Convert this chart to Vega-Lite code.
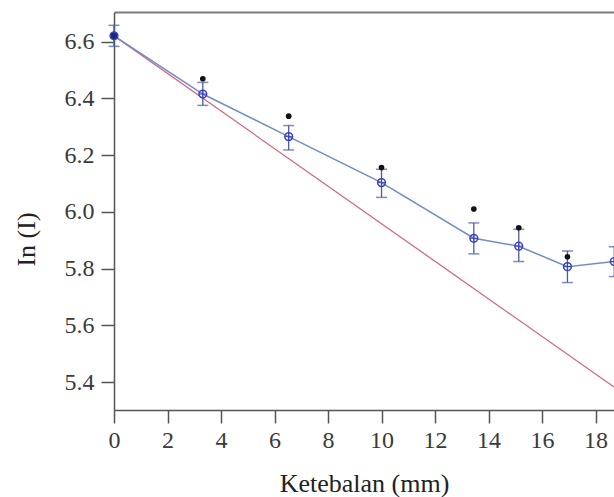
{
  "$schema": "https://vega.github.io/schema/vega-lite/v6.json",
  "width": 500,
  "height": 398,
  "autosize": {"type": "none"},
  "padding": {"left": 114, "top": 12, "right": 0, "bottom": 87},
  "background": "white",
  "config": {
    "view": {"stroke": null},
    "axis": {
      "titleFont": "Liberation Serif",
      "titleFontSize": 26,
      "titleColor": "#222",
      "titleFontWeight": "normal",
      "domainColor": "#555",
      "domainWidth": 1.5,
      "tickColor": "#555",
      "tickWidth": 1.5,
      "tickSize": 13,
      "labelFlush": false,
      "grid": false
    }
  },
  "datasets": {
    "meas": [
      {"x": 0, "y": 6.62, "lo": 6.583, "hi": 6.657, "dot": null, "kind": "filled"},
      {"x": 3.32, "y": 6.415, "lo": 6.375, "hi": 6.456, "dot": 6.469, "kind": "open"},
      {"x": 6.53, "y": 6.265, "lo": 6.218, "hi": 6.304, "dot": 6.337, "kind": "open"},
      {"x": 10.0, "y": 6.103, "lo": 6.051, "hi": 6.15, "dot": 6.156, "kind": "open"},
      {"x": 13.45, "y": 5.907, "lo": 5.852, "hi": 5.961, "dot": 6.01, "kind": "open"},
      {"x": 15.13, "y": 5.879, "lo": 5.825, "hi": 5.939, "dot": 5.944, "kind": "open"},
      {"x": 16.95, "y": 5.807, "lo": 5.751, "hi": 5.862, "dot": 5.842, "kind": "open"},
      {"x": 18.7, "y": 5.825, "lo": 5.772, "hi": 5.877, "dot": null, "kind": "open"}
    ],
    "ref": [
      {"x": 0, "y": 6.62},
      {"x": 18.69, "y": 5.383}
    ]
  },
  "resolve": {"axis": {"x": "independent", "y": "independent"}},
  "layer": [
    {
      "data": {"name": "ref"},
      "mark": {"type": "line", "color": "#d46a80", "strokeWidth": 1.3, "clip": true},
      "encoding": {
        "x": {"field": "x", "type": "quantitative", "scale": {"domain": [0, 18.69], "nice": false, "zero": false},
              "axis": {"orient": "top", "labels": false, "ticks": false, "title": null, "domainColor": "#7a7a7a", "domainWidth": 2}},
        "y": {"field": "y", "type": "quantitative", "scale": {"domain": [5.302, 6.704], "nice": false, "zero": false},
              "axis": {"values": [5.4, 5.6, 5.8, 6.0, 6.2, 6.4, 6.6], "format": ".1f", "title": "In (I)",
                       "labelFont": "Liberation Serif", "labelFontSize": 24, "labelColor": "#3a3a3a",
                       "labelPadding": 7, "titleX": -75, "titleY": 227}}
      }
    },
    {
      "data": {"name": "meas"},
      "mark": {"type": "line", "color": "#6f8dc9", "strokeWidth": 1.5, "clip": false},
      "encoding": {
        "x": {"field": "x", "type": "quantitative",
              "axis": {"values": [0, 2, 4, 6, 8, 10, 12, 14, 16, 18], "title": "Ketebalan (mm)",
                       "labelFont": "Liberation Serif", "labelFontSize": 24, "labelColor": "#3a3a3a",
                       "labelPadding": 5, "titlePadding": 18}},
        "y": {"field": "y", "type": "quantitative", "axis": null}
      }
    },
    {
      "data": {"name": "meas"},
      "mark": {"type": "rule", "color": "#4b5aa8", "strokeWidth": 1.3},
      "encoding": {
        "x": {"field": "x", "type": "quantitative", "axis": null},
        "y": {"field": "lo", "type": "quantitative", "axis": null},
        "y2": {"field": "hi"}
      }
    },
    {
      "data": {"name": "meas"},
      "mark": {"type": "tick", "orient": "horizontal", "color": "#4b5aa8", "thickness": 1.5, "size": 11},
      "encoding": {
        "x": {"field": "x", "type": "quantitative", "axis": null},
        "y": {"field": "lo", "type": "quantitative", "axis": null}
      }
    },
    {
      "data": {"name": "meas"},
      "mark": {"type": "tick", "orient": "horizontal", "color": "#4b5aa8", "thickness": 1.5, "size": 11},
      "encoding": {
        "x": {"field": "x", "type": "quantitative", "axis": null},
        "y": {"field": "hi", "type": "quantitative", "axis": null}
      }
    },
    {
      "data": {"name": "meas"},
      "transform": [{"filter": "datum.dot != null"}],
      "mark": {"type": "point", "filled": true, "color": "#111", "size": 32, "opacity": 1},
      "encoding": {
        "x": {"field": "x", "type": "quantitative", "axis": null},
        "y": {"field": "dot", "type": "quantitative", "axis": null}
      }
    },
    {
      "data": {"name": "meas"},
      "mark": {"type": "point", "shape": "circle", "size": 60, "strokeWidth": 1.5, "stroke": "#3a44b8", "opacity": 1},
      "encoding": {
        "x": {"field": "x", "type": "quantitative", "axis": null},
        "y": {"field": "y", "type": "quantitative", "axis": null},
        "fill": {"field": "kind", "type": "nominal", "scale": {"domain": ["filled", "open"], "range": ["#1c2a7a", "transparent"]}, "legend": null}
      }
    },
    {
      "data": {"name": "meas"},
      "transform": [{"filter": "datum.kind == 'open'"}],
      "mark": {"type": "point", "shape": "M-1,0L1,0M0,-1L0,1", "size": 60, "strokeWidth": 1, "stroke": "#3a44b8", "filled": false, "opacity": 1},
      "encoding": {
        "x": {"field": "x", "type": "quantitative", "axis": null},
        "y": {"field": "y", "type": "quantitative", "axis": null}
      }
    }
  ]
}
